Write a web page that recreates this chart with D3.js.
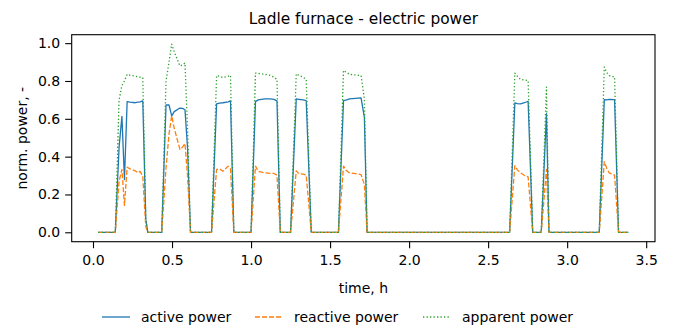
<!DOCTYPE html>
<html>
<head>
<meta charset="utf-8">
<script src="https://cdn.jsdelivr.net/npm/d3@7"></script>
<style>
  body { margin: 0; background: #fff; }
  svg text { font-family: "DejaVu Sans", sans-serif; fill: #000; }
</style>
</head>
<body>
<svg id="chart" width="673" height="326"></svg>
<script>
// time in hours, powers normalised to the peak apparent power
const time = [0.033, 0.141, 0.165, 0.183, 0.199, 0.216, 0.235, 0.267, 0.284, 0.298, 0.315, 0.334, 0.347,
  0.435, 0.462, 0.481, 0.498, 0.514, 0.55, 0.566, 0.582, 0.598, 0.617,
  0.75, 0.782, 0.80, 0.823, 0.855, 0.870, 0.891,
  1.0, 1.028, 1.045, 1.087, 1.12, 1.145, 1.164, 1.185,
  1.25, 1.286, 1.302, 1.33, 1.349, 1.381,
  1.553, 1.585, 1.605, 1.623, 1.66, 1.696, 1.717, 1.734,
  2.636, 2.669, 2.685, 2.705, 2.73, 2.753, 2.782,
  2.836, 2.869, 2.885,
  3.203, 3.235, 3.25, 3.266, 3.30, 3.325, 3.388];

const active = [0, 0, 0.45, 0.613, 0.279, 0.691, 0.688, 0.685, 0.688, 0.69, 0.695, 0.066, 0,
  0, 0.673, 0.673, 0.616, 0.638, 0.657, 0.655, 0.648, 0.45, 0,
  0, 0.679, 0.683, 0.685, 0.69, 0.695, 0,
  0, 0.691, 0.70, 0.705, 0.705, 0.703, 0.695, 0,
  0, 0.705, 0.703, 0.70, 0.696, 0,
  0, 0.696, 0.70, 0.705, 0.708, 0.711, 0.608, 0,
  0, 0.684, 0.68, 0.679, 0.685, 0.693, 0,
  0, 0.627, 0,
  0, 0.701, 0.70, 0.703, 0.701, 0, 0];

const reactive = [0, 0, 0.27, 0.332, 0.142, 0.344, 0.335, 0.325, 0.315, 0.322, 0.296, 0.03, 0,
  0, 0.34, 0.52, 0.616, 0.55, 0.438, 0.45, 0.469, 0.3, 0,
  0, 0.332, 0.335, 0.323, 0.35, 0.335, 0,
  0, 0.35, 0.323, 0.314, 0.312, 0.311, 0.302, 0,
  0, 0.325, 0.31, 0.308, 0.302, 0,
  0, 0.35, 0.325, 0.314, 0.31, 0.305, 0.252, 0,
  0, 0.353, 0.33, 0.314, 0.30, 0.293, 0,
  0, 0.332, 0,
  0, 0.373, 0.34, 0.314, 0.302, 0, 0];

const apparent = [0, 0, 0.70, 0.776, 0.80, 0.835, 0.83, 0.826, 0.822, 0.82, 0.817, 0.07, 0,
  0, 0.80, 0.90, 0.995, 0.955, 0.88, 0.885, 0.895, 0.55, 0,
  0, 0.829, 0.825, 0.818, 0.825, 0.83, 0,
  0, 0.842, 0.84, 0.835, 0.83, 0.82, 0.808, 0,
  0, 0.838, 0.83, 0.82, 0.808, 0,
  0, 0.856, 0.845, 0.835, 0.832, 0.829, 0.705, 0,
  0, 0.842, 0.825, 0.808, 0.805, 0.803, 0,
  0, 0.768, 0,
  0, 0.874, 0.845, 0.829, 0.821, 0, 0];

const seriesNames = ["active power", "reactive power", "apparent power"];
const xTicks = [0, 0.5, 1, 1.5, 2, 2.5, 3, 3.5];
const yTicks = [0, 0.2, 0.4, 0.6, 0.8, 1.0];

const margin = { top: 34.7, right: 18, bottom: 84.3, left: 71.7 };
const width = 673 - margin.left - margin.right;
const height = 326 - margin.top - margin.bottom;

const svg = d3.select("#chart");
const g = svg.append("g").attr("transform", `translate(${margin.left},${margin.top})`);

// matplotlib style 5% padding around the data
const xExt = d3.extent(time);
const xPad = (xExt[1] - xExt[0]) * 0.05;
const yMax = d3.max(apparent);
const yPad = yMax * 0.05;

const x = d3.scaleLinear().domain([xExt[0] - xPad, xExt[1] + xPad]).range([0, width]);
const y = d3.scaleLinear().domain([-yPad, yMax + yPad]).range([height, 0]);

const styles = [
  { key: "active", values: active, color: "#1f77b4", dash: null },
  { key: "reactive", values: reactive, color: "#ff7f0e", dash: "5,2" },
  { key: "apparent", values: apparent, color: "#2ca02c", dash: "1.3,2.2" }
];

const line = d3.line()
  .x(d => x(d[0]))
  .y(d => y(d[1]));

styles.forEach(s => {
  g.append("path")
    .datum(time.map((t, i) => [t, s.values[i]]))
    .attr("fill", "none")
    .attr("stroke", s.color)
    .attr("stroke-width", 1.3)
    .attr("stroke-dasharray", s.dash)
    .attr("stroke-linejoin", "round")
    .attr("d", line);
});

// axes
const xAxis = g.append("g")
  .attr("transform", `translate(0,${height})`)
  .call(d3.axisBottom(x).tickValues(xTicks).tickFormat(d3.format(".1f")).tickSizeInner(6.5).tickSizeOuter(0).tickPadding(7));
const yAxis = g.append("g")
  .call(d3.axisLeft(y).tickValues(yTicks).tickFormat(d3.format(".1f")).tickSizeInner(6.5).tickSizeOuter(0).tickPadding(5));

[xAxis, yAxis].forEach(a => {
  a.select(".domain").remove();
  a.selectAll("line").attr("stroke", "#000").attr("stroke-width", 1.1);
  a.selectAll("text").style("font-size", "14px").attr("fill", "#000");
});

g.append("rect")
  .attr("width", width)
  .attr("height", height)
  .attr("fill", "none")
  .attr("stroke", "#000")
  .attr("stroke-width", 1.1);

// title and labels
svg.append("text")
  .attr("x", margin.left + width / 2)
  .attr("y", 24)
  .attr("text-anchor", "middle")
  .style("font-size", "15.4px")
  .text("Ladle furnace - electric power");

svg.append("text")
  .attr("x", margin.left + width / 2)
  .attr("y", 293)
  .attr("text-anchor", "middle")
  .style("font-size", "14px")
  .text("time, h");

svg.append("text")
  .attr("transform", `translate(27,${margin.top + height / 2}) rotate(-90)`)
  .attr("text-anchor", "middle")
  .style("font-size", "14px")
  .text("norm. power, -");

// legend below the plot
const legendX = [102, 255, 423];
const legend = svg.append("g").attr("transform", "translate(0,317)");
styles.forEach((s, i) => {
  legend.append("line")
    .attr("x1", legendX[i]).attr("x2", legendX[i] + 28)
    .attr("y1", 0).attr("y2", 0)
    .attr("stroke", s.color)
    .attr("stroke-width", 1.3)
    .attr("stroke-dasharray", s.dash);
  legend.append("text")
    .attr("x", legendX[i] + 39)
    .attr("y", 5)
    .style("font-size", "14px")
    .text(seriesNames[i]);
});
</script>
</body>
</html>
